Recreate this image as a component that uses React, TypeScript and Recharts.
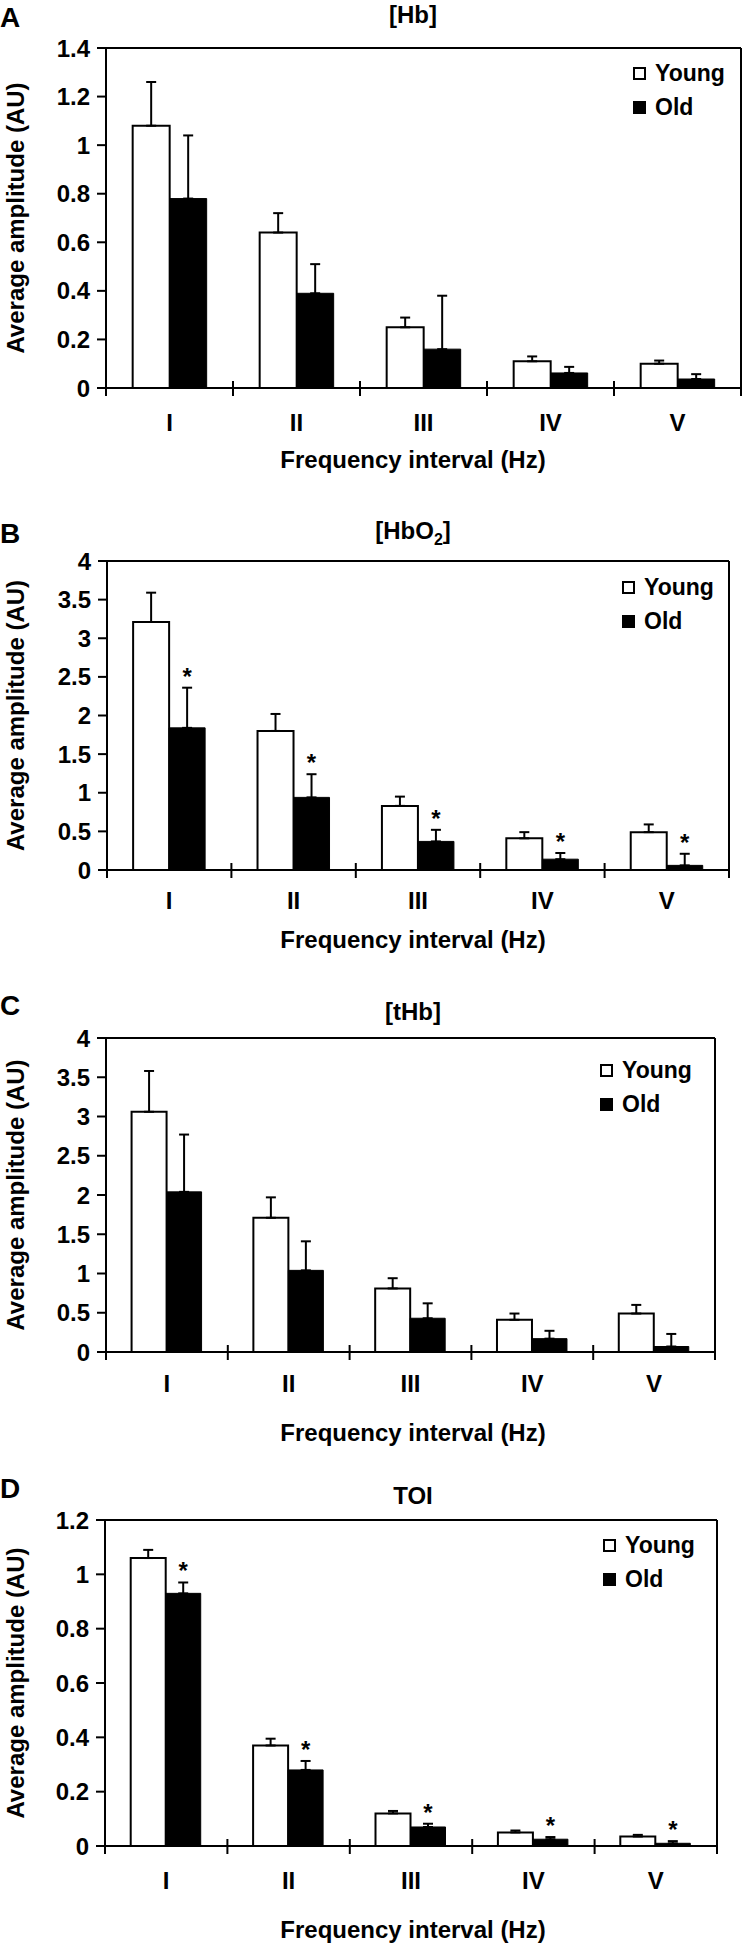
import React from 'react'
import { BarChart, Bar, XAxis, YAxis, ErrorBar, LabelList, Legend, CartesianGrid } from 'recharts'

const FONT = '"Liberation Sans", Arial, Helvetica, sans-serif'

const categories = ['I', 'II', 'III', 'IV', 'V']
const seriesNames = ['Young', 'Old']

// [Hb]
const hbYoung = [1.08, 0.64, 0.25, 0.11, 0.1]
const hbYoungErr = [0.18, 0.08, 0.04, 0.02, 0.013]
const hbOld = [0.78, 0.39, 0.16, 0.062, 0.037]
const hbOldErr = [0.26, 0.12, 0.22, 0.025, 0.02]
const hbSig = [false, false, false, false, false]
const hbTicks = [0, 0.2, 0.4, 0.6, 0.8, 1, 1.2, 1.4]

// [HbO2]
const hbo2Young = [3.21, 1.8, 0.83, 0.41, 0.49]
const hbo2YoungErr = [0.38, 0.22, 0.12, 0.08, 0.1]
const hbo2Old = [1.84, 0.94, 0.37, 0.14, 0.06]
const hbo2OldErr = [0.52, 0.3, 0.15, 0.08, 0.15]
const hbo2Sig = [true, true, true, true, true]
const hbo2Ticks = [0, 0.5, 1, 1.5, 2, 2.5, 3, 3.5, 4]

// [tHb]
const thbYoung = [3.06, 1.71, 0.81, 0.41, 0.49]
const thbYoungErr = [0.52, 0.26, 0.13, 0.08, 0.11]
const thbOld = [2.04, 1.04, 0.43, 0.17, 0.07]
const thbOldErr = [0.73, 0.37, 0.19, 0.1, 0.16]
const thbSig = [false, false, false, false, false]
const thbTicks = [0, 0.5, 1, 1.5, 2, 2.5, 3, 3.5, 4]

// TOI
const toiYoung = [1.06, 0.37, 0.12, 0.05, 0.035]
const toiYoungErr = [0.03, 0.025, 0.009, 0.007, 0.006]
const toiOld = [0.93, 0.28, 0.07, 0.025, 0.01]
const toiOldErr = [0.04, 0.033, 0.012, 0.008, 0.008]
const toiSig = [true, true, true, true, true]
const toiTicks = [0, 0.2, 0.4, 0.6, 0.8, 1, 1.2]

const axisLine = { stroke: '#000', strokeWidth: 2 }

function CatTick(props: any) {
  const { x, y, payload, index, visibleTicksCount, width, labelDy } = props
  const half = payload?.offset || width / visibleTicksCount / 2
  return (
    <g>
      <line x1={x - half} x2={x - half} y1={y - 7} y2={y + 8} stroke="#000" strokeWidth={2} />
      {index === visibleTicksCount - 1 && (
        <line x1={x + half} x2={x + half} y1={y - 7} y2={y + 8} stroke="#000" strokeWidth={2} />
      )}
      <text x={x} y={y + labelDy} textAnchor="middle" fontSize={24} fontWeight="bold" fill="#000" fontFamily={FONT}>
        {payload.value}
      </text>
    </g>
  )
}

function LegendBox({ payload }: any) {
  const items = [...(payload || [])].sort(
    (a: any, b: any) => seriesNames.indexOf(a.value) - seriesNames.indexOf(b.value)
  )
  return (
    <div style={{ fontFamily: FONT, fontSize: 23, fontWeight: 'bold', lineHeight: '34px', color: '#000' }}>
      {items.map((e: any) => (
        <div key={e.value} style={{ display: 'flex', alignItems: 'center', whiteSpace: 'nowrap' }}>
          <span
            style={{
              display: 'inline-block',
              width: 13,
              height: 13,
              boxSizing: 'border-box',
              border: '2px solid #000',
              background: e.color,
              marginRight: 9,
            }}
          />
          {e.value}
        </div>
      ))}
    </div>
  )
}

function Panel(p: any) {
  const rows = categories.map((cat, i) => ({
    cat,
    young: p.young[i],
    old: p.old[i],
    youngErr: [0, p.youngErr[i]],
    oldErr: [0, p.oldErr[i]],
  }))
  const max = p.ticks[p.ticks.length - 1]

  const yLabel = (lp: any) => {
    const vb = lp.viewBox || {}
    const cy = vb.y + vb.height / 2
    return (
      <g fontFamily={FONT} fill="#000" fontWeight="bold">
        <text x={15} y={cy} transform={`rotate(-90, 15, ${cy})`} textAnchor="middle" dominantBaseline="central" fontSize={24}>
          Average amplitude (AU)
        </text>
        <text x={0} y={p.letterY} fontSize={28}>
          {p.letter}
        </text>
        <text x={413} y={p.titleY} textAnchor="middle" fontSize={24}>
          {p.title}
          {p.sub && (
            <tspan dy={6} fontSize={16}>
              {p.sub}
            </tspan>
          )}
          {p.sub && <tspan dy={-6}>]</tspan>}
        </text>
      </g>
    )
  }

  const xLabel = () => (
    <text x={413} y={p.axisTitleY} textAnchor="middle" fontSize={24} fontWeight="bold" fill="#000" fontFamily={FONT}>
      Frequency interval (Hz)
    </text>
  )

  const star = (lp: any) => {
    const { index, value } = lp
    const vb = lp.viewBox && lp.viewBox.width != null ? lp.viewBox : lp
    if (!p.sig[index]) return null
    const k = vb.height / value
    const top = vb.y - p.oldErr[index] * k
    return (
      <text x={vb.x + vb.width / 2} y={top - 3} textAnchor="middle" fontSize={24} fontWeight="bold" fill="#000" fontFamily={FONT}>
        *
      </text>
    )
  }

  return (
    <div style={{ position: 'absolute', left: 0, top: p.top }}>
      <BarChart
        width={744}
        height={p.height}
        data={rows}
        margin={{ top: p.mTop, right: p.mRight, bottom: 0, left: 0 }}
        barCategoryGap="21%"
        barGap={0}
        style={{ fontFamily: FONT }}
      >
        <CartesianGrid
          stroke="#000"
          strokeWidth={2}
          fill="none"
          horizontalCoordinatesGenerator={({ offset }: any) => [offset.top]}
          verticalCoordinatesGenerator={({ offset }: any) => [offset.left + offset.width]}
        />
        <XAxis
          dataKey="cat"
          height={p.xH}
          axisLine={axisLine}
          tickLine={false}
          tickSize={0}
          tickMargin={0}
          interval={0}
          tick={(tp: any) => <CatTick {...tp} labelDy={p.tickDy} />}
          label={xLabel}
        />
        <YAxis
          domain={[0, max]}
          ticks={p.ticks}
          interval={0}
          width={p.yW}
          axisLine={axisLine}
          tickLine={{ stroke: '#000', strokeWidth: 2 }}
          tickSize={9}
          tickMargin={7}
          tick={{ fill: '#000', fontSize: 24, fontWeight: 'bold', fontFamily: FONT }}
          label={yLabel}
        />
        <Legend
          layout="vertical"
          align="center"
          verticalAlign="middle"
          wrapperStyle={{ top: p.legendTop, left: p.legendLeft, width: 'auto' }}
          content={<LegendBox />}
        />
        <Bar dataKey="young" name={seriesNames[0]} fill="#fff" stroke="#000" strokeWidth={2} isAnimationActive={false}>
          <ErrorBar dataKey="youngErr" width={5} stroke="#000" strokeWidth={2} />
        </Bar>
        <Bar dataKey="old" name={seriesNames[1]} fill="#000" stroke="#000" strokeWidth={1} isAnimationActive={false}>
          <ErrorBar dataKey="oldErr" width={5} stroke="#000" strokeWidth={2} />
          <LabelList dataKey="old" content={star} />
        </Bar>
      </BarChart>
    </div>
  )
}

export default function App() {
  return (
    <div style={{ position: 'absolute', left: 0, top: 0, width: 744, height: 1947, background: '#fff' }}>
      <Panel
        top={0} height={480} mTop={48} mRight={3} yW={106} xH={92} tickDy={43} axisTitleY={468}
        letter="A" letterY={27} title="[Hb]" titleY={23} legendTop={56} legendLeft={633}
        young={hbYoung} youngErr={hbYoungErr} old={hbOld} oldErr={hbOldErr} sig={hbSig} ticks={hbTicks}
      />
      <Panel
        top={480} height={480} mTop={81} mRight={15} yW={107} xH={90} tickDy={39} axisTitleY={468}
        letter="B" letterY={63} title="[HbO" sub="2" titleY={59} legendTop={90} legendLeft={622}
        young={hbo2Young} youngErr={hbo2YoungErr} old={hbo2Old} oldErr={hbo2OldErr} sig={hbo2Sig} ticks={hbo2Ticks}
      />
      <Panel
        top={960} height={490} mTop={78} mRight={29} yW={106} xH={98} tickDy={40} axisTitleY={481}
        letter="C" letterY={55} title="[tHb]" titleY={60} legendTop={93} legendLeft={600}
        young={thbYoung} youngErr={thbYoungErr} old={thbOld} oldErr={thbOldErr} sig={thbSig} ticks={thbTicks}
      />
      <Panel
        top={1450} height={497} mTop={70} mRight={27} yW={105} xH={101} tickDy={43} axisTitleY={488}
        letter="D" letterY={48} title="TOI" titleY={54} legendTop={78} legendLeft={603}
        young={toiYoung} youngErr={toiYoungErr} old={toiOld} oldErr={toiOldErr} sig={toiSig} ticks={toiTicks}
      />
    </div>
  )
}
